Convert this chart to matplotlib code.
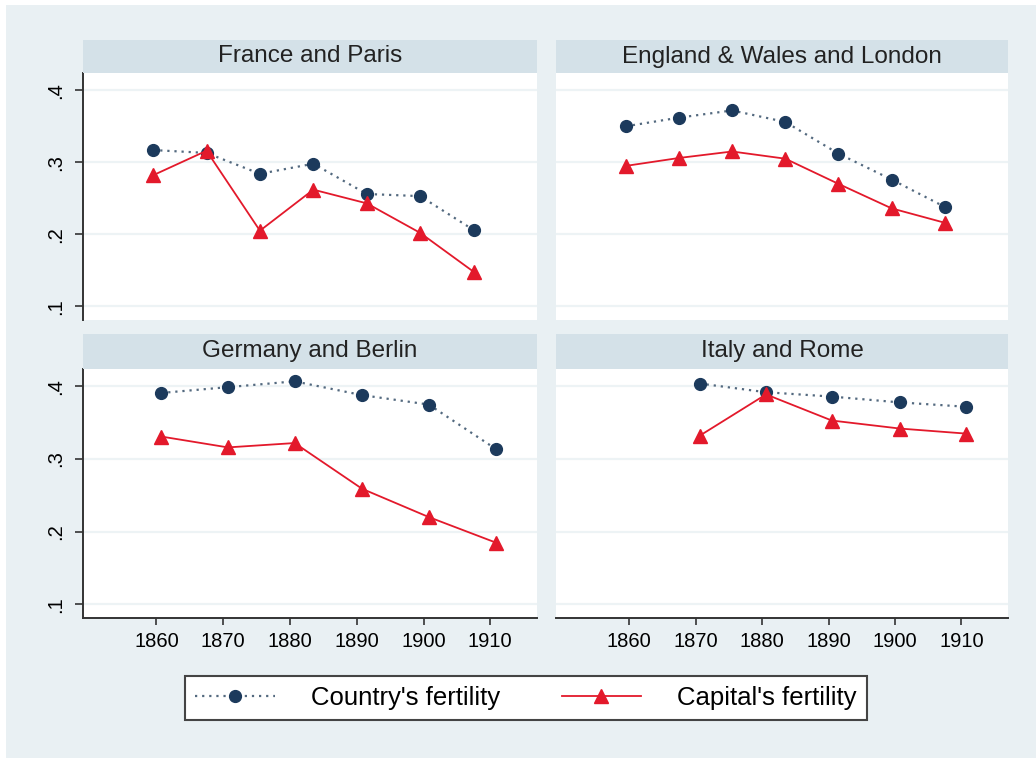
import matplotlib
matplotlib.use('Agg')
import matplotlib.pyplot as plt
from matplotlib.lines import Line2D
from matplotlib.patches import Rectangle

plt.rcParams['font.family'] = ['Liberation Sans', 'DejaVu Sans']

# data
titles = ['France and Paris', 'England & Wales and London',
          'Germany and Berlin', 'Italy and Rome']

years_fr = [1859.5, 1867.5, 1875.5, 1883.5, 1891.5, 1899.5, 1907.5]
country_fr = [0.317, 0.313, 0.284, 0.298, 0.256, 0.253, 0.206]
capital_fr = [0.282, 0.316, 0.205, 0.262, 0.243, 0.202, 0.148]

years_en = [1859.5, 1867.5, 1875.5, 1883.5, 1891.5, 1899.5, 1907.5]
country_en = [0.350, 0.362, 0.372, 0.356, 0.312, 0.276, 0.238]
capital_en = [0.295, 0.306, 0.315, 0.305, 0.270, 0.236, 0.216]

years_de = [1860.7, 1870.7, 1880.7, 1890.8, 1900.8, 1910.8]
country_de = [0.391, 0.399, 0.407, 0.388, 0.375, 0.314]
capital_de = [0.331, 0.316, 0.322, 0.259, 0.220, 0.185]

years_it = [1870.6, 1880.6, 1890.5, 1900.7, 1910.7]
country_it = [0.404, 0.392, 0.386, 0.378, 0.372]
capital_it = [0.332, 0.389, 0.353, 0.342, 0.335]

x_ticks = [1860, 1870, 1880, 1890, 1900, 1910]
y_ticks = [0.1, 0.2, 0.3, 0.4]
y_labels = ['.1', '.2', '.3', '.4']

bg = '#e9f0f3'
strip_col = '#d4e1e8'
grid_col = '#edf3f5'
navy = '#1c3a5c'
dot_col = '#53697f'
red = '#e3192b'
axis_col = '#333333'

fig = plt.figure(figsize=(10.36, 7.58), dpi=100)
fig.patch.set_facecolor(bg)
# thin white edge at top and left
fig.patches.append(Rectangle((0, 1 - 5 / 758), 1, 5 / 758, transform=fig.transFigure,
                             facecolor='white', edgecolor='none', zorder=0))
fig.patches.append(Rectangle((0, 0), 6 / 1036, 1, transform=fig.transFigure,
                             facecolor='white', edgecolor='none', zorder=0))

lefts = [83 / 1036, 556 / 1036]
widths = [454 / 1036, 452 / 1036]
bottoms = [1 - 320 / 758, 1 - 618 / 758]
heights = [247 / 758, 249 / 758]
strip_h = [33 / 758, 35 / 758]

data = [(years_fr, country_fr, capital_fr),
        (years_en, country_en, capital_en),
        (years_de, country_de, capital_de),
        (years_it, country_it, capital_it)]

for i, (yrs, ctry, cap) in enumerate(data):
    row, col = divmod(i, 2)
    l, w = lefts[col], widths[col]
    b, h = bottoms[row], heights[row]
    ax = fig.add_axes([l, b, w, h])
    ax.set_facecolor('white')
    ax.set_xlim(1849, 1917)
    ax.set_ylim(0.081, 0.424)
    ax.set_yticks(y_ticks)
    ax.grid(axis='y', color=grid_col, lw=1.6)
    ax.set_axisbelow(True)
    for s in ax.spines.values():
        s.set_visible(False)

    if col == 0:
        ax.spines['left'].set_visible(True)
        ax.spines['left'].set_color(axis_col)
        ax.spines['left'].set_linewidth(1.4)
        ax.set_yticklabels(y_labels, rotation=90, va='center', fontsize=14.5)
        ax.tick_params(axis='y', length=6, width=1.2, color=axis_col, pad=7)
    else:
        ax.tick_params(axis='y', left=False, labelleft=False)

    if row == 1:
        ax.spines['bottom'].set_visible(True)
        ax.spines['bottom'].set_color(axis_col)
        ax.spines['bottom'].set_linewidth(1.4)
        ax.set_xticks(x_ticks)
        ax.set_xticklabels([str(t) for t in x_ticks], fontsize=14.5)
        ax.tick_params(axis='x', length=5, width=1.2, color=axis_col, pad=5)
    else:
        ax.set_xticks([])

    ax.plot(yrs[:len(ctry)], ctry, color=dot_col, ls=(0, (1.0, 2.2)), lw=1.6,
            marker='o', ms=8.5, mfc=navy, mec=navy, zorder=3)
    ax.plot(yrs[:len(cap)], cap, color=red, lw=1.3,
            marker='^', ms=9.5, mfc=red, mec=red, zorder=4)

    sax = fig.add_axes([l, b + h, w, strip_h[row]])
    sax.set_facecolor(strip_col)
    sax.set_xticks([])
    sax.set_yticks([])
    for s in sax.spines.values():
        s.set_visible(False)
    sax.text(0.5, 0.5, titles[i], ha='center', va='center', fontsize=17.5,
             color='#222222', transform=sax.transAxes)

handles = [Line2D([], [], color=dot_col, ls=(0, (1.0, 2.2)), lw=1.6,
                  marker='o', ms=8.5, mfc=navy, mec=navy),
           Line2D([], [], color=red, lw=1.3, marker='^', ms=9.5, mfc=red, mec=red)]
leg = fig.legend(handles, ["Country's fertility", "Capital's fertility"],
                 loc='center', bbox_to_anchor=(0.5077, 0.0792), ncol=2,
                 frameon=True, fancybox=False, edgecolor='#444444', framealpha=1,
                 fontsize=18.5, handlelength=3.1, handletextpad=1.4,
                 columnspacing=2.4, borderpad=0.38, numpoints=1)
leg.get_frame().set_linewidth(1.5)

fig.savefig('out.png', dpi=100, facecolor=fig.get_facecolor())
